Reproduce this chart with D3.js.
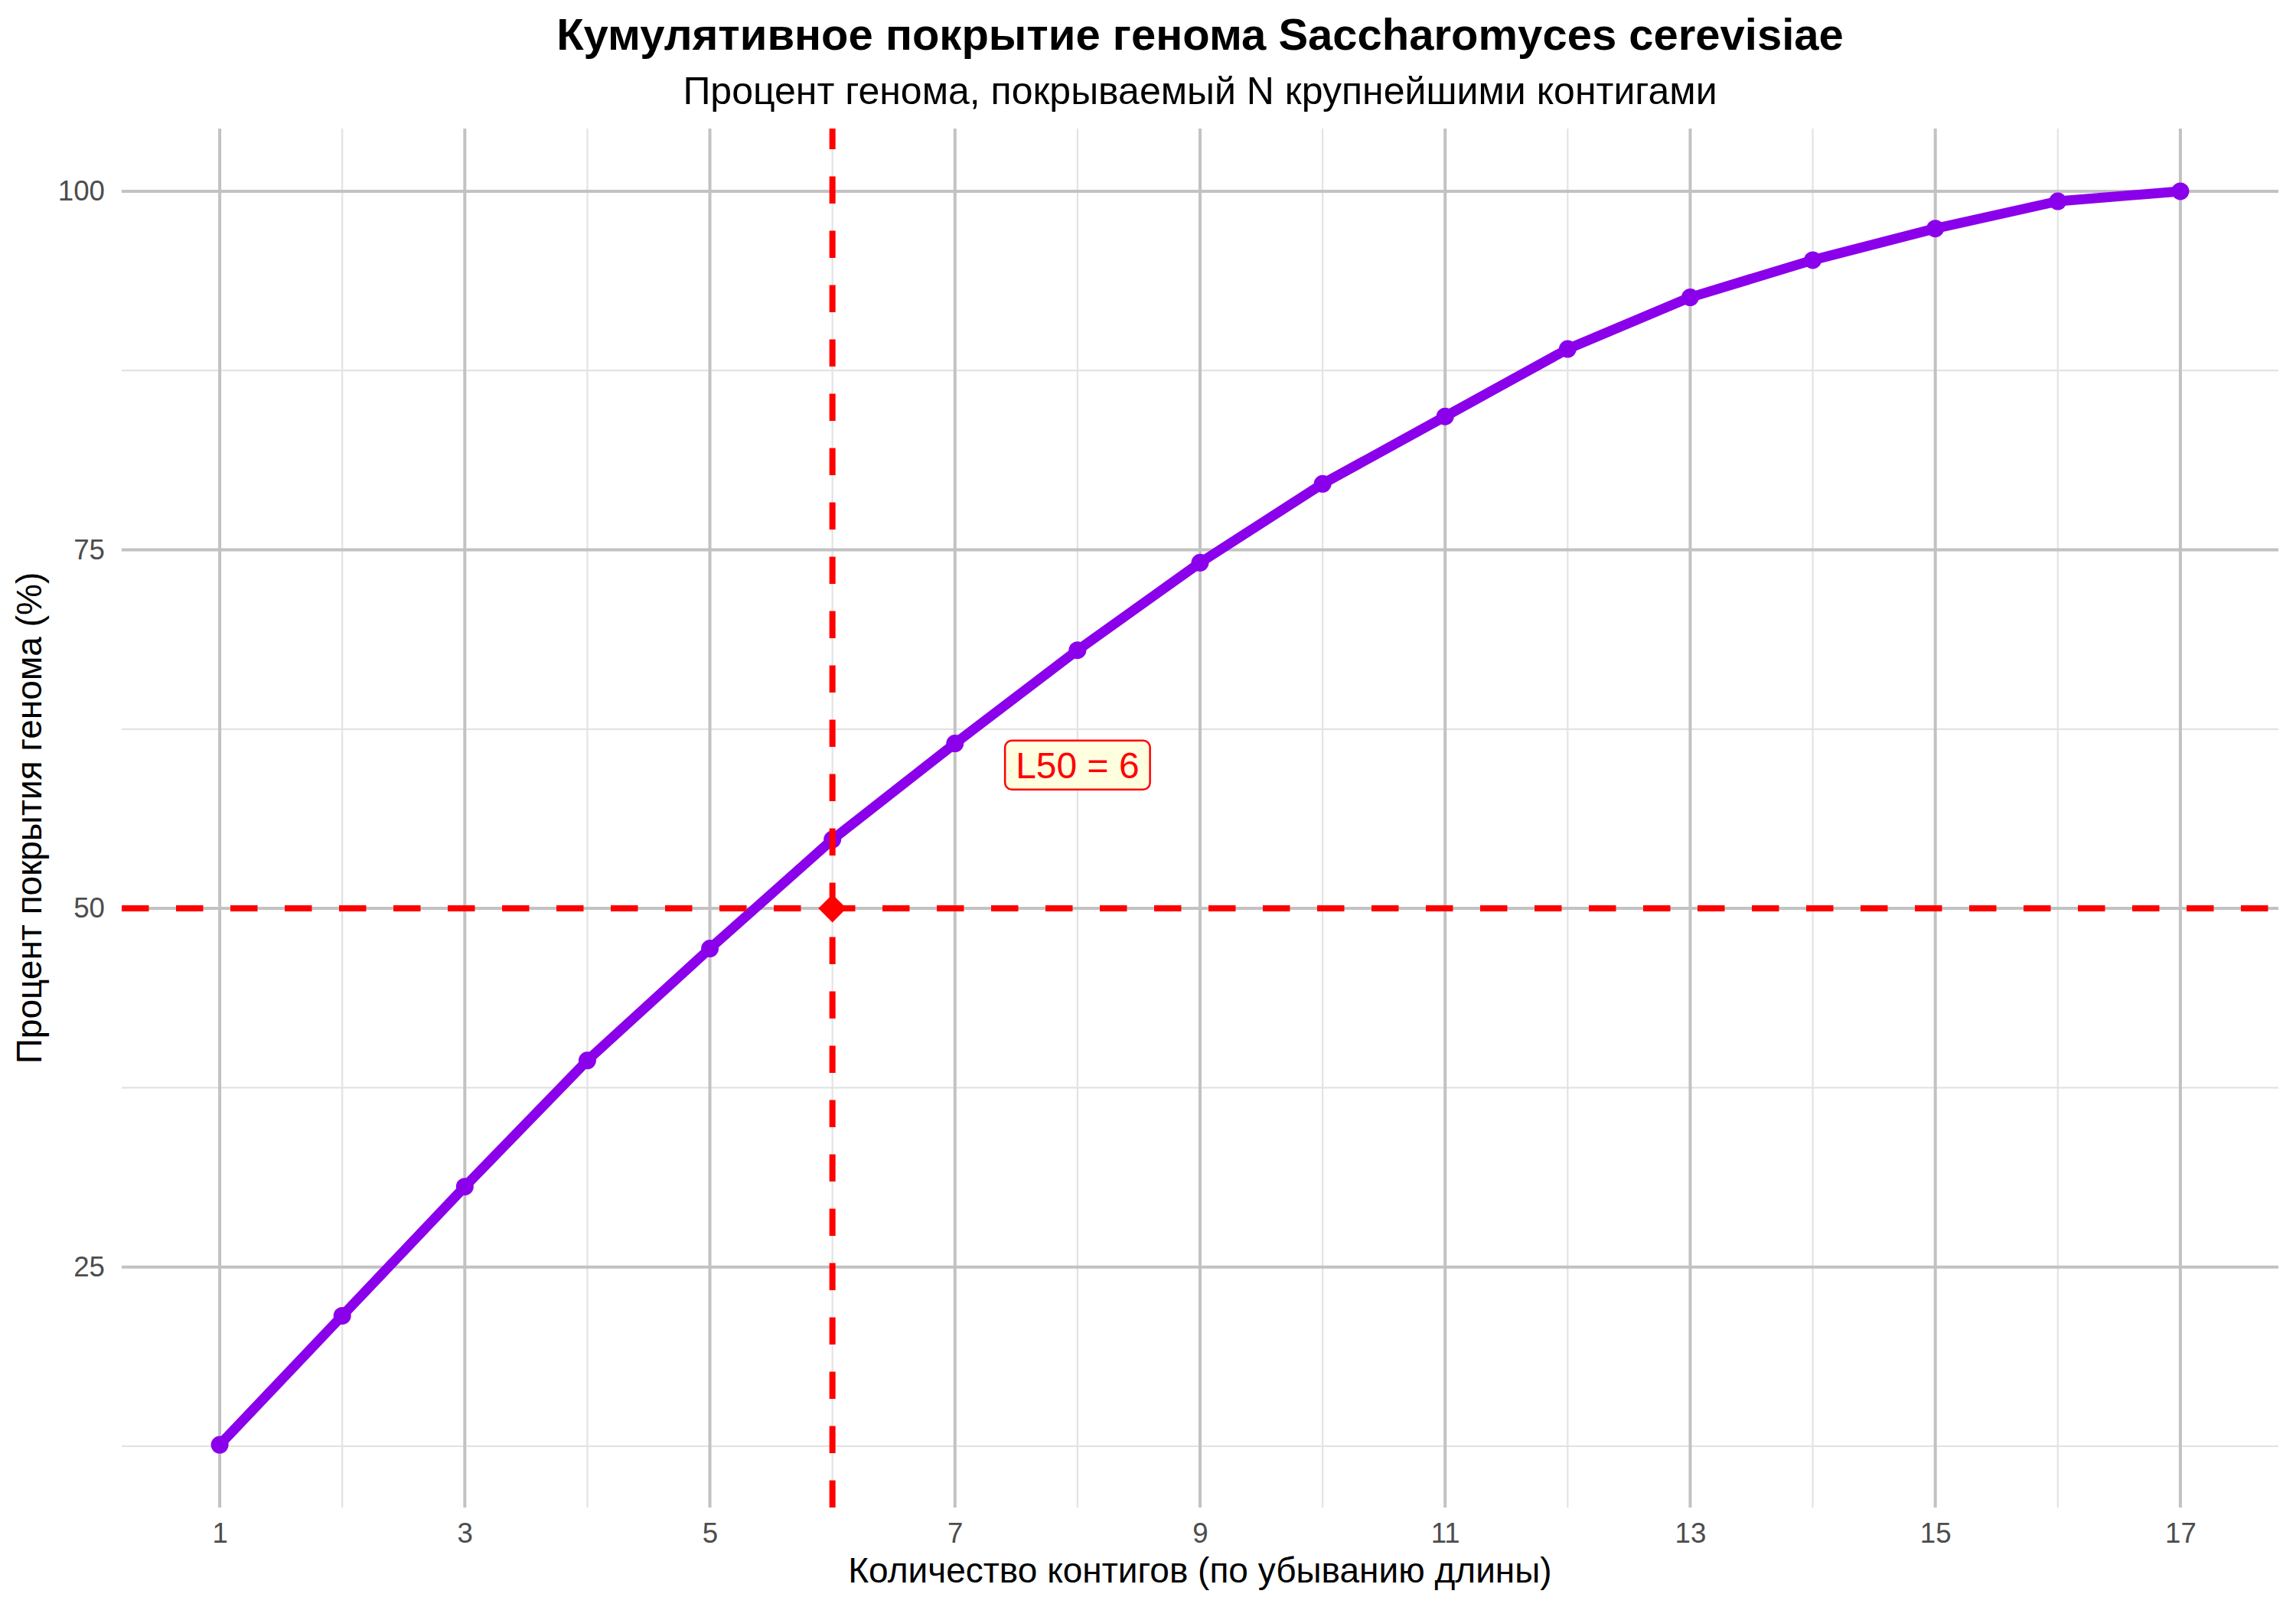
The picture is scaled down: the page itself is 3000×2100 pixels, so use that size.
<!DOCTYPE html>
<html>
<head>
<meta charset="utf-8">
<script src="https://cdn.jsdelivr.net/npm/d3@7"></script>
<style>
  body { margin: 0; background: #fff; }
  svg text { font-family: "Liberation Sans", Arial, sans-serif; }
</style>
</head>
<body>
<div id="chart"></div>
<script>
// Cumulative genome coverage by N largest contigs
const contigs = [1, 2, 3, 4, 5, 6, 7, 8, 9, 10, 11, 12, 13, 14, 15, 16, 17];
const coverage = [12.6, 21.6, 30.6, 39.4, 47.2, 54.8, 61.5, 68.0, 74.1, 79.6, 84.3, 89.0, 92.6, 95.2, 97.4, 99.3, 100];
const l50 = 6;
const threshold = 50;
const xTicks = [1, 3, 5, 7, 9, 11, 13, 15, 17];
const xMinor = [2, 4, 6, 8, 10, 12, 14, 16];
const yTicks = [25, 50, 75, 100];
const yMinor = [12.5, 37.5, 62.5, 87.5];

const W = 3000, H = 2100;
const mLeft = 159, mRight = 2977, mTop = 168, mBottom = 1970;

const svg = d3.select("#chart").append("svg")
    .attr("width", W)
    .attr("height", H);

svg.append("rect").attr("width", W).attr("height", H).attr("fill", "#fff");

// ggplot-style expanded domains (5%)
const xExt = d3.extent(contigs), yExt = d3.extent(coverage);
const xPad = (xExt[1] - xExt[0]) * 0.05, yPad = (yExt[1] - yExt[0]) * 0.05;
const x = d3.scaleLinear().domain([xExt[0] - xPad, xExt[1] + xPad]).range([mLeft, mRight]);
const y = d3.scaleLinear().domain([yExt[0] - yPad, yExt[1] + yPad]).range([mBottom, mTop]);

// grid
const grid = svg.append("g");
grid.selectAll(".xminor").data(xMinor).enter().append("line")
    .attr("x1", d => x(d)).attr("x2", d => x(d))
    .attr("y1", mTop).attr("y2", mBottom)
    .attr("stroke", "#e3e3e3").attr("stroke-width", 2.2);
grid.selectAll(".yminor").data(yMinor).enter().append("line")
    .attr("x1", mLeft).attr("x2", mRight)
    .attr("y1", d => y(d)).attr("y2", d => y(d))
    .attr("stroke", "#e3e3e3").attr("stroke-width", 2.2);
grid.selectAll(".xmajor").data(xTicks).enter().append("line")
    .attr("x1", d => x(d)).attr("x2", d => x(d))
    .attr("y1", mTop).attr("y2", mBottom)
    .attr("stroke", "#c2c2c2").attr("stroke-width", 4);
grid.selectAll(".ymajor").data(yTicks).enter().append("line")
    .attr("x1", mLeft).attr("x2", mRight)
    .attr("y1", d => y(d)).attr("y2", d => y(d))
    .attr("stroke", "#c2c2c2").attr("stroke-width", 4);

// axes (labels only)
const xAxis = svg.append("g")
    .attr("transform", `translate(0,${mBottom})`)
    .call(d3.axisBottom(x).tickValues(xTicks).tickSize(0).tickPadding(20));
const yAxis = svg.append("g")
    .attr("transform", `translate(${mLeft},0)`)
    .call(d3.axisLeft(y).tickValues(yTicks).tickSize(0).tickPadding(22));
[xAxis, yAxis].forEach(a => {
    a.select(".domain").remove();
    a.selectAll("text")
        .attr("font-size", 36.7)
        .attr("fill", "#4d4d4d")
        .style("font-family", '"Liberation Sans", Arial, sans-serif');
});

// data line + points
const line = d3.line().x((d, i) => x(contigs[i])).y(d => y(d));
svg.append("path")
    .datum(coverage)
    .attr("d", line)
    .attr("fill", "none")
    .attr("stroke", "#8b00ea")
    .attr("stroke-width", 13)
    .attr("stroke-linejoin", "round");
svg.selectAll(".pt").data(coverage).enter().append("circle")
    .attr("cx", (d, i) => x(contigs[i]))
    .attr("cy", d => y(d))
    .attr("r", 11.5)
    .attr("fill", "#8b00ea");

// threshold lines
svg.append("line")
    .attr("x1", mLeft).attr("x2", mRight)
    .attr("y1", y(threshold)).attr("y2", y(threshold))
    .attr("stroke", "#ff0000").attr("stroke-width", 8)
    .attr("stroke-dasharray", "35.5,35.5");
svg.append("line")
    .attr("x1", x(l50)).attr("x2", x(l50))
    .attr("y1", mBottom).attr("y2", mTop)
    .attr("stroke", "#ff0000").attr("stroke-width", 8)
    .attr("stroke-dasharray", "35.5,35.5");

// diamond marker
svg.append("path")
    .attr("d", d3.symbol().type(d3.symbolSquare).size(26 * 26)())
    .attr("transform", `translate(${x(l50)},${y(threshold)}) rotate(45)`)
    .attr("fill", "#ff0000");

// label
const lx = x(l50 + 2), ly = y(60);
const lab = svg.append("g");
const labText = lab.append("text")
    .attr("x", lx).attr("y", ly + 17.5)
    .attr("text-anchor", "middle")
    .attr("font-size", 48)
    .attr("fill", "#ff0000")
    .text("L50 = " + l50);
const bb = labText.node().getBBox();
lab.insert("rect", "text")
    .attr("x", bb.x - 14).attr("y", ly - 32)
    .attr("width", bb.width + 28).attr("height", 64)
    .attr("rx", 9).attr("ry", 9)
    .attr("fill", "#ffffe0")
    .attr("stroke", "#ff0000")
    .attr("stroke-width", 2.5);

// titles
const cx = (mLeft + mRight) / 2;
svg.append("text")
    .attr("x", cx).attr("y", 65)
    .attr("text-anchor", "middle")
    .attr("font-size", 58).attr("font-weight", "bold")
    .attr("fill", "#000")
    .text("Кумулятивное покрытие генома Saccharomyces cerevisiae");
svg.append("text")
    .attr("x", cx).attr("y", 136)
    .attr("text-anchor", "middle")
    .attr("font-size", 50)
    .attr("fill", "#000")
    .text("Процент генома, покрываемый N крупнейшими контигами");
svg.append("text")
    .attr("x", cx).attr("y", 2068)
    .attr("text-anchor", "middle")
    .attr("font-size", 46)
    .attr("fill", "#000")
    .text("Количество контигов (по убыванию длины)");
svg.append("text")
    .attr("transform", `translate(54,${(mTop + mBottom) / 2}) rotate(-90)`)
    .attr("text-anchor", "middle")
    .attr("font-size", 46)
    .attr("fill", "#000")
    .text("Процент покрытия генома (%)");
</script>
</body>
</html>
